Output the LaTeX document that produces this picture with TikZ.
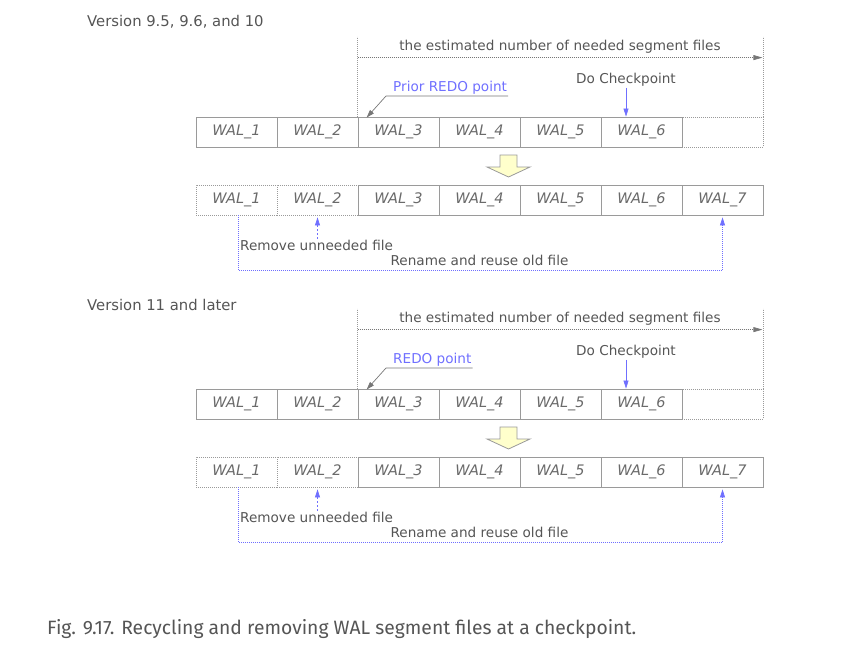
\documentclass[tikz,border=0pt]{standalone}
\usepackage{fontspec}
\setmainfont{DejaVu Sans}
\newfontfamily\captionfont{Fira Sans}
\usetikzlibrary{arrows.meta}
\definecolor{walGray}{HTML}{9A9A9A}
\definecolor{walText}{HTML}{6A6A6A}
\definecolor{walDark}{HTML}{555555}
\definecolor{walBlue}{HTML}{6F6FFF}
\definecolor{walYellow}{HTML}{FFFFCC}

\begin{document}
\begin{tikzpicture}
[x=1pt,y=-1pt,
  cellDecorate/.style={draw=walGray,line width=0.8pt,minimum width=81pt,
    minimum height=30pt,inner sep=0pt,text=walText,
    font=\itshape\fontsize{14.5}{16}\selectfont},%
  freeDecorate/.style={cellDecorate,dash pattern=on 0.8pt off 1.2pt},%
  textDecorate/.style={inner sep=1pt,text=walDark,font=\fontsize{13.6}{16}\selectfont},%
  grayArrow/.style={draw=walDark!80,line width=0.7pt,-{Triangle[length=8pt,width=5pt]}},%
  blueArrow/.style={draw=walBlue,line width=0.7pt,-{Triangle[length=8pt,width=5pt]}},%
  dotLine/.style={draw=walGray,line width=0.7pt,dash pattern=on 0.7pt off 1.3pt}]
\useasboundingbox (0,0) rectangle (866,648);
%% titles
\node[textDecorate,anchor=west,font=\fontsize{14.8}{16}\selectfont] (verA) at (86,22) {Version 9.5, 9.6, and 10};
\node[textDecorate,anchor=west,font=\fontsize{14.8}{16}\selectfont] (verB) at (86,305) {Version 11 and later};
%% both panels
\foreach \p/\dy/\redo in {a/0/{Prior REDO point}, b/272/{REDO point}}
{
  %% segment files before the checkpoint
  \foreach \i/\deco/\name in {
    7/freeDecorate/{}, 1/cellDecorate/{WAL\_1}, 2/cellDecorate/{WAL\_2},
    3/cellDecorate/{WAL\_3}, 4/cellDecorate/{WAL\_4}, 5/cellDecorate/{WAL\_5},
    6/cellDecorate/{WAL\_6}}
  {
    \node[\deco] (c\p\i) at (155.5+81*\i,132+\dy) {\name};
  }
  %% estimated range
  \draw[dotLine] (c\p3.north west) -- ++(0,-80);
  \draw[dotLine] (c\p7.north east) -- ++(0,-80);
  \coordinate (estL\p) at ([yshift=59pt]c\p3.north west);
  \coordinate (estR\p) at ([yshift=59pt,xshift=-1pt]c\p7.north east);
  \draw[dotLine,-{Triangle[length=9pt,width=5pt]},walDark!80] (estL\p) -- (estR\p);
  \node[textDecorate] (est\p) at (560,47+\dy) {the estimated number of needed segment files};
  %% redo point and checkpoint
  \node[textDecorate,text=walBlue,anchor=south west] (redo\p) at (392,96+\dy) {\redo};
  \coordinate (bend\p) at (386,96+\dy);
  \draw[grayArrow] (redo\p.south east) -- (bend\p) -- ([xshift=9pt,yshift=-1pt]c\p3.north west);
  \node[textDecorate] (check\p) at (626,80+\dy) {Do Checkpoint};
  \draw[blueArrow] (check\p.south) -- (check\p.south |- c\p6.north);
  %% yellow arrow
  \draw[draw=walGray,fill=walYellow,line width=0.8pt]
    (500,155+\dy) -- (517,155+\dy) -- (517,167+\dy) -- (530,167+\dy)
    -- (508.5,177+\dy) -- (487,167+\dy) -- (500,167+\dy) -- cycle;
  %% segment files after the checkpoint
  \foreach \i/\deco/\name in {
    3/cellDecorate/{WAL\_3}, 4/cellDecorate/{WAL\_4}, 5/cellDecorate/{WAL\_5},
    6/cellDecorate/{WAL\_6}, 7/cellDecorate/{WAL\_7},
    1/freeDecorate/{WAL\_1}, 2/freeDecorate/{WAL\_2}}
  {
    \node[\deco,fill=white] (d\p\i) at (155.5+81*\i,200+\dy) {\name};
  }
  %% remove and recycle
  \node[textDecorate,anchor=west] (remove\p) at (239,245+\dy) {Remove unneeded file};
  \draw[blueArrow,dash pattern=on 2pt off 2pt] (remove\p.north -| d\p2.south) -- ([yshift=-2pt]d\p2.south);
  \draw[blueArrow,dash pattern=on 0.8pt off 1.2pt] ([xshift=1.5pt]d\p1.south) -- ++(0,55) -| ([yshift=-2pt]d\p7.south);
  \node[textDecorate] (rename\p) at (479.5,260+\dy) {Rename and reuse old file};
}
%% caption
\node[anchor=west,inner sep=0pt,text=walDark,font=\captionfont\fontsize{19.3}{21}\selectfont]
  (caption) at (47,629) {Fig. 9.17. Recycling and removing WAL segment files at a checkpoint.};
\end{tikzpicture}
\end{document}
